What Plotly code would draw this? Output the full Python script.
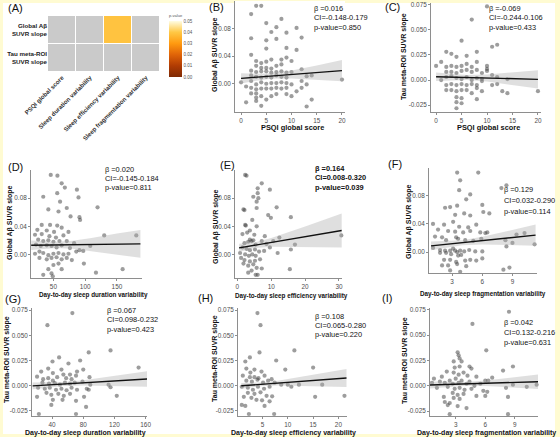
import plotly.graph_objects as go

W, H = 560, 437
def px(v): return v / W
def py(v): return 1 - v / H

FONT = "Liberation Sans, Arial, sans-serif"

# ---------------- Panel A: heatmap of p-values ----------------
hm_row_labels = ["Global Aβ<br>SUVR slope", "Tau meta-ROI<br>SUVR slope"]
hm_cols = ["PSQI global score", "Sleep duration variability",
           "Sleep efficiency variability", "Sleep fragmentation variability"]
pval_global = [0.850, 0.811, 0.039, 0.114]
pval_tau = [0.433, 0.423, 0.220, 0.631]
p_threshold = 0.05
cbar_ticks = [0.00, 0.01, 0.02, 0.03, 0.04, 0.05]

# ---------------- Panel B: PSQI vs global Abeta ----------------
B_x = [3,4,2,5,8,6,7,11,5,2,9,12,7,5,9,11,2,3,4,5,6,8,9,10,3,4,5,6,7,8,2,3,4,5,6,7,8,9,10,12,13,
       2,3,4,5,6,7,8,9,0,1,2,3,4,5,6,7,8,9,10,12,13,14,20,2,3,4,5,6,7,8,9,2,3,4,5,6,7,9,10,1,3,4,14,13,3,11,12]
B_y = [0.113,0.113,0.101,0.088,0.094,0.075,0.082,0.081,0.063,0.066,0.074,0.067,0.065,0.051,0.052,0.049,
       0.042,0.033,0.030,0.032,0.035,0.035,0.038,0.033,0.026,0.023,0.023,0.022,0.026,0.028,0.019,0.017,0.018,
       0.018,0.016,0.017,0.018,0.016,0.017,0.021,0.011,0.012,0.010,0.009,0.010,0.009,0.012,0.010,0.009,0.002,
       -0.004,0.004,-0.001,0.002,0.000,0.001,0.001,0.002,0.001,-0.001,0.004,-0.001,0.012,0.006,-0.006,-0.008,
       -0.007,-0.007,-0.007,-0.006,-0.007,-0.006,-0.014,-0.014,-0.018,-0.023,-0.018,-0.015,-0.015,-0.018,-0.027,
       -0.025,-0.032,-0.023,-0.033,-0.020,-0.011,-0.006]
B_band_x = [0, 3, 6, 10, 15, 20]
B_fit = [0.0077, 0.0094, 0.0111, 0.0134, 0.0162, 0.0190]
B_lo = [0.0002, 0.0044, 0.0071, 0.0075, 0.0058, 0.0035]
B_hi = [0.0152, 0.0144, 0.0151, 0.0193, 0.0266, 0.0345]
B_xticks = [0, 5, 10, 15, 20]
B_yticks = [0.00, 0.04, 0.08]
B_stats = ["β =0.016", "CI=-0.148-0.179", "p-value=0.850"]

# ---------------- Panel C: PSQI vs tau ----------------
C_x = [10,7,5,11,12,2,3,8,4,6,0,1,2,3,4,5,6,7,8,10,10,10,2,3,4,5,6,7,8,9,1,2,3,4,5,6,7,8,9,11,12,14,
       2,3,4,5,6,7,8,12,2,3,4,5,6,8,9,4,5,7,8,13,14,20,4,5,4,9,11]
C_y = [0.073,0.060,0.039,0.033,0.035,0.028,0.026,0.028,0.023,0.024,0.014,0.018,0.013,0.014,0.013,0.014,
       0.016,0.013,0.018,0.014,0.011,0.009,0.008,0.008,0.007,0.009,0.010,0.008,0.010,0.007,0.000,0.003,0.004,
       0.002,0.001,0.003,0.000,0.002,0.001,0.005,0.003,0.001,-0.005,-0.004,-0.005,-0.004,-0.005,-0.004,-0.005,
       -0.004,-0.010,-0.010,-0.011,-0.010,-0.010,-0.008,-0.011,-0.017,-0.018,-0.013,-0.019,-0.011,-0.013,-0.011,
       -0.022,-0.023,-0.028,-0.001,-0.005]
C_band_x = [0, 3, 6, 10, 15, 20]
C_fit = [0.0033, 0.0029, 0.0025, 0.0020, 0.0014, 0.0007]
C_lo = [-0.0009, -0.0002, 0.0000, -0.0015, -0.0047, -0.0083]
C_hi = [0.0075, 0.0060, 0.0050, 0.0055, 0.0075, 0.0097]
C_xticks = [0, 5, 10, 15, 20]
C_yticks = [-0.025, 0.000, 0.025, 0.050, 0.075]
C_stats = ["β =-0.069", "CI=-0.244-0.106", "p-value=0.433"]

# ---------------- Panel D: duration variability vs global Abeta ----------------
D_x = [45.8,56.3,63,68,87,34,56,89.5,60.5,42,71,119.5,77,91,92,58,31.6,44.7,56,24.7,39.5,51,63,73.7,21,31.6,
       43.7,54,65.8,130,180.5,26,34,42,50,59.5,71,82.6,22.6,30,39.5,47,55,63,76,108,21,28,34,42,50,58,65.8,
       73.7,86,91,97,39.5,47,55,63,71,79,28,98,50,58,42,63,47,34,117,159,49]
D_y = [0.113,0.112,0.101,0.095,0.092,0.082,0.087,0.081,0.075,0.064,0.066,0.067,0.054,0.053,0.049,0.061,0.042,
       0.042,0.041,0.035,0.034,0.032,0.038,0.032,0.028,0.029,0.026,0.024,0.027,0.027,0.027,0.021,0.019,0.020,
       0.018,0.019,0.019,0.016,0.014,0.012,0.013,0.012,0.010,0.013,0.009,0.012,0.001,0.004,0.002,-0.001,0.001,
       0.002,0.000,0.001,0.004,0.006,0.005,-0.007,-0.005,-0.004,-0.007,-0.005,-0.008,-0.005,-0.013,-0.015,
       -0.013,-0.021,-0.021,-0.027,-0.029,-0.026,-0.021,-0.031]
D_band_x = [15, 35, 55, 80, 110, 150, 187]
D_fit = [0.0130, 0.0132, 0.0135, 0.0138, 0.0141, 0.0146, 0.0150]
D_lo = [0.0062, 0.0079, 0.0090, 0.0080, 0.0048, -0.0004, -0.0048]
D_hi = [0.0198, 0.0185, 0.0180, 0.0196, 0.0234, 0.0296, 0.0348]
D_xticks = [50, 100, 150]
D_yticks = [0.00, 0.04, 0.08]
D_stats = ["β =0.020", "CI=-0.145-0.184", "p-value=0.811"]

# ---------------- Panel E: efficiency variability vs global Abeta ----------------
E_x = [2.3,2.7,7.2,6,9.6,6,4.7,6.2,5.7,11.6,1.8,2.1,5.7,9.1,9.9,15.8,4.4,2.3,2.5,3.7,5.7,5,8.1,12.4,1.5,2.9,
       3.7,4.2,4.7,3.2,2.1,5.4,7.2,8.6,10.6,17,30.7,1.5,2.7,3.7,5.2,6.4,7.9,9.6,11.9,15.8,0.8,2.3,3.4,4.4,5.4,
       1.1,2.1,3.7,5.2,6.7,1.8,3.2,4.7,5.7,7.2,4.2,15.5,6,5.4,3.2]
E_y = [0.113,0.112,0.101,0.094,0.092,0.087,0.082,0.080,0.075,0.067,0.064,0.063,0.066,0.056,0.052,0.053,0.049,
       0.042,0.041,0.034,0.040,0.028,0.026,0.024,0.029,0.031,0.021,0.019,0.020,0.018,0.016,0.014,0.019,0.015,
       0.019,0.014,0.027,0.010,0.008,0.006,0.007,0.004,0.005,0.010,0.002,0.007,0.002,0.000,-0.002,0.000,-0.002,
       -0.005,-0.008,-0.010,-0.009,-0.007,-0.013,-0.016,-0.014,-0.019,-0.020,-0.023,-0.021,-0.029,-0.029,-0.026]
E_band_x = [0.5, 5, 10, 15, 20, 25, 30.8]
E_fit = [0.0093, 0.0130, 0.0171, 0.0211, 0.0252, 0.0293, 0.0340]
E_lo = [0.0034, 0.0090, 0.0108, 0.0110, 0.0107, 0.0103, 0.0100]
E_hi = [0.0152, 0.0170, 0.0234, 0.0312, 0.0397, 0.0483, 0.0580]
E_xticks = [0, 10, 20, 30]
E_yticks = [0.00, 0.04, 0.08]
E_stats = ["β =0.164", "CI=0.008-0.320", "p-value=0.039"]

# ---------------- Panel F: fragmentation variability vs global Abeta ----------------
F_x = [3.5,5.6,3.8,3.7,4.4,4.8,7.9,8.4,2.3,2.8,3.5,6.0,3.3,4.2,4.8,6.1,6.7,1.1,2.2,3.1,3.7,4.6,5.4,1.6,2.6,
       3.3,4.1,4.8,5.8,6.3,6.5,1.3,2.0,2.4,3.4,3.6,4.3,5.1,5.9,10.2,9.4,8.3,9.0,1.1,1.8,2.3,2.8,3.1,3.3,3.5,
       3.8,4.2,4.7,5.3,6.0,1.8,2.4,2.9,3.6,3.9,8.4,11.2,2.2,2.8,3.4,4.3,4.8,5.4,6.0,2.0,2.6,3.5,4.4,8.1,8.7,
       2.8,3.8]
F_y = [0.113,0.113,0.102,0.088,0.075,0.082,0.091,0.095,0.063,0.064,0.066,0.067,0.053,0.055,0.052,0.057,0.055,
       0.040,0.039,0.043,0.036,0.035,0.039,0.032,0.030,0.029,0.028,0.030,0.028,0.027,0.028,0.022,0.021,0.017,
       0.021,0.019,0.017,0.016,0.019,0.027,0.025,0.017,0.013,0.006,0.003,0.002,0.002,0.005,0.002,0.000,0.002,
       0.001,0.003,0.001,0.001,-0.001,-0.001,-0.003,-0.005,-0.004,0.008,0.011,-0.011,-0.011,-0.014,-0.012,
       -0.011,-0.012,-0.009,-0.019,-0.019,-0.017,-0.020,-0.025,-0.022,-0.026,-0.028]
F_band_x = [0.9, 2.5, 4, 6, 8, 10, 11.3]
F_fit = [0.0089, 0.0112, 0.0134, 0.0163, 0.0193, 0.0222, 0.0241]
F_lo = [0.0027, 0.0067, 0.0099, 0.0108, 0.0103, 0.0094, 0.0091]
F_hi = [0.0151, 0.0157, 0.0169, 0.0218, 0.0283, 0.0350, 0.0391]
F_xticks = [3, 6, 9]
F_yticks = [0.00, 0.04, 0.08]
F_stats = ["β =0.129", "CI=0.032-0.290", "p-value=0.114"]

# ---------------- Panel G: duration variability vs tau ----------------
G_x = [66,34,115,87,49,40.5,76,26,35,41,52,61,54.5,63,72,80,88,151,20.7,28.5,35,41,46.5,58,65,70.7,27.6,36,
       43.5,50,56.5,63,69,79,112.5,89,22,30.6,37,45,52,58.6,65,72,84.5,115,32.8,39,48,55,63,81,87,20.7,41,
       53.4,70.7,83.6,39,123,23,70.7]
G_y = [0.072,0.060,0.035,0.033,0.028,0.024,0.025,0.014,0.017,0.0125,0.016,0.022,0.011,0.011,0.014,0.016,
       0.0085,0.018,0.009,0.0065,0.0075,0.005,0.0085,0.0075,0.0065,0.010,0.003,0.002,0.0025,0.001,0.003,0.002,
       0.003,0.004,0.001,0.001,-0.002,-0.003,-0.002,-0.004,-0.003,-0.0045,-0.002,-0.004,-0.003,-0.0015,-0.007,
       -0.009,-0.008,-0.010,-0.008,-0.011,-0.004,-0.011,-0.014,-0.014,-0.015,-0.021,-0.019,-0.010,-0.028,-0.028]
G_band_x = [15, 35, 55, 80, 110, 140, 162]
G_fit = [-0.0002, 0.0007, 0.0016, 0.0028, 0.0042, 0.0056, 0.0066]
G_lo = [-0.0036, -0.0017, -0.0004, 0.0001, -0.0002, -0.0007, -0.0011]
G_hi = [0.0032, 0.0031, 0.0036, 0.0055, 0.0086, 0.0119, 0.0143]
G_xticks = [40, 80, 120, 160]
G_yticks = [-0.025, 0.000, 0.025, 0.050, 0.075]
G_stats = ["β =0.067", "CI=0.098-0.232", "p-value=0.423"]

# ---------------- Panel H: efficiency variability vs tau ----------------
H_x = [4.0,4.6,11.3,4.4,2.5,1.6,7.7,1.8,2.6,3.4,4.8,9.5,15,1.1,2.5,3.4,4.2,5.4,6.8,1.8,2.9,4.0,5.1,6.1,7.4,
       8.7,10,10.7,12.2,16.8,0.9,2.1,3.1,4.1,5.3,6.4,2.1,3.4,4.6,5.8,6.9,1.3,2.8,3.8,4.9,6.4,15.4,21.2,0.9,
       1.6,5.4,2.3,7.3]
H_y = [0.072,0.060,0.035,0.033,0.028,0.024,0.025,0.017,0.013,0.016,0.014,0.016,0.018,0.010,0.0085,0.0085,
       0.0075,0.010,0.0065,0.005,0.004,0.006,0.003,0.005,0.003,0.001,0.001,-0.001,0.001,0.001,-0.001,-0.002,
       -0.004,-0.001,-0.003,-0.001,-0.007,-0.008,-0.0065,-0.010,-0.0105,-0.011,-0.012,-0.014,-0.0145,-0.0155,
       -0.011,-0.010,-0.019,-0.020,-0.020,-0.028,-0.028]
H_band_x = [0.8, 3, 5, 8, 12, 17, 21.6]
H_fit = [-0.0001, 0.0007, 0.0015, 0.0026, 0.0040, 0.0059, 0.0076]
H_lo = [-0.0030, -0.0014, -0.0003, 0.0003, -0.0002, -0.0009, -0.0013]
H_hi = [0.0028, 0.0028, 0.0033, 0.0049, 0.0082, 0.0127, 0.0165]
H_xticks = [5, 10, 15, 20]
H_yticks = [-0.025, 0.000, 0.025, 0.050, 0.075]
H_stats = ["β =0.108", "CI=0.065-0.280", "p-value=0.220"]

# ---------------- Panel I: fragmentation variability vs tau ----------------
I_x = [8.4,4.7,6.1,3.2,3.3,3.4,2.8,3.6,4.4,4.6,8.8,7.8,2.1,2.9,3.4,1.6,2.8,3.3,3.8,4.2,5.1,6.0,6.7,0.8,1.4,
       2.4,3.0,3.6,4.4,6.3,0.6,1.9,2.7,3.3,4.1,4.9,5.5,8.1,8.8,10.2,11.2,1.1,2.2,2.9,3.4,3.9,4.6,5.8,6.2,2.7,
       3.2,3.8,5.1,1.8,2.8,3.4,6.0,1.9,2.4,3.2,8.3,2.2,4.1,2.4,8.3]
I_y = [0.073,0.061,0.035,0.033,0.030,0.027,0.024,0.024,0.019,0.017,0.019,0.015,0.014,0.018,0.019,0.009,0.013,
       0.011,0.013,0.010,0.009,0.005,0.008,0.007,0.004,0.005,0.007,0.005,0.004,0.005,0.003,0.003,0.002,0.003,
       0.002,0.000,0.002,-0.002,0.001,-0.001,0.001,-0.002,-0.001,-0.003,-0.002,-0.004,-0.003,-0.005,-0.006,
       -0.007,-0.009,-0.008,-0.010,-0.011,-0.012,-0.013,-0.010,-0.016,-0.017,-0.020,-0.011,-0.019,-0.022,
       -0.028,-0.028]
I_band_x = [0.4, 2, 4, 6, 8, 10, 11.35]
I_fit = [0.0008, 0.0013, 0.0019, 0.0025, 0.0031, 0.0036, 0.0040]
I_lo = [-0.0026, -0.0011, 0.0001, -0.0001, -0.0012, -0.0024, -0.0032]
I_hi = [0.0042, 0.0037, 0.0037, 0.0051, 0.0074, 0.0096, 0.0112]
I_xticks = [3, 6, 9]
I_yticks = [-0.025, 0.000, 0.025, 0.050, 0.075]
I_stats = ["β =0.042", "CI=0.132-0.216", "p-value=0.631"]

# =================================================================
fig = go.Figure()
annotations = []
layout_axes = {}

# ---- Heatmap (panel A)
pvals = [pval_global, pval_tau]
z_sig = [[p if p <= p_threshold else None for p in row] for row in pvals]
z_ns = [[1 if p > p_threshold else None for p in row] for row in pvals]
fig.add_trace(go.Heatmap(z=z_ns, x=hm_cols, y=hm_row_labels, colorscale=[[0, "#CACACA"], [1, "#CACACA"]],
                         showscale=False, xgap=1, ygap=1, hoverinfo="skip"))
fig.add_trace(go.Heatmap(
    z=z_sig, x=hm_cols, y=hm_row_labels, zmin=0, zmax=0.05, xgap=1, ygap=1,
    colorscale=[[0, "#7E2A05"], [0.2, "#B13C03"], [0.4, "#E06408"], [0.6, "#FF9A10"],
                [0.8, "#FFC845"], [1, "#FFFDE3"]],
    colorbar=dict(x=px(169), xanchor="left", xpad=0, ypad=0, y=py(44), yanchor="middle",
                  len=66, lenmode="pixels", thickness=13, thicknessmode="pixels", outlinewidth=0,
                  tickvals=cbar_ticks, ticktext=[f"{t:.2f}" for t in cbar_ticks], ticks="", ticklen=0,
                  tickfont=dict(size=4.5, color="#555", family=FONT),
                  title=dict(text="p-value", side="top", font=dict(size=4, color="#555", family=FONT))),
    hoverinfo="skip"))
layout_axes["xaxis"] = dict(domain=[px(48), px(160)], anchor="y", tickangle=-45, showgrid=False,
                            zeroline=False, showline=False, ticks="",
                            tickvals=hm_cols, ticktext=[f"<b>{c}</b>" for c in hm_cols],
                            tickfont=dict(size=6.1, color="#333", family=FONT))
layout_axes["yaxis"] = dict(domain=[py(72), py(16)], anchor="x", autorange="reversed", showgrid=False,
                            zeroline=False, showline=False, ticks="",
                            tickvals=hm_row_labels, ticktext=[f"<b>{r}</b>" for r in hm_row_labels],
                            tickfont=dict(size=6.2, color="#222", family=FONT))

# ---- Scatter panels
panels = [
    dict(k=2, x=B_x, y=B_y, bx=B_band_x, fit=B_fit, lo=B_lo, hi=B_hi, xt=B_xticks, yt=B_yticks, fmt="{:.2f}",
         dom=(235, 345, 1, 112), xr=(-1.2, 20.6), yr=(-0.041, 0.120), stats=B_stats, st=(312, 8, 9.5), bold=False,
         label="(B)", lab=(207, 7), xtitle="PSQI global score", xtp=(292, 127, 7.4),
         ytitle="Global Aβ SUVR slope", ytp=(215, 55)),
    dict(k=3, x=C_x, y=C_y, bx=C_band_x, fit=C_fit, lo=C_lo, hi=C_hi, xt=C_xticks, yt=C_yticks, fmt="{:.3f}",
         dom=(431, 541, 3, 112), xr=(-1.0, 20.6), yr=(-0.0317, 0.0764), stats=C_stats, st=(487, 8, 9.5), bold=False,
         label="(C)", lab=(383, 7), xtitle="PSQI global score", xtp=(488, 127, 7.4),
         ytitle="Tau meta-ROI SUVR slope", ytp=(404, 57)),
    dict(k=4, x=D_x, y=D_y, bx=D_band_x, fit=D_fit, lo=D_lo, hi=D_hi, xt=D_xticks, yt=D_yticks, fmt="{:.2f}",
         dom=(31, 142, 170, 278), xr=(14.7, 189.5), yr=(-0.0335, 0.120), stats=D_stats, st=(103, 169, 9.5), bold=False,
         label="(D)", lab=(6, 167), xtitle="Day-to-day sleep duration variability", xtp=(93, 295, 6.3),
         ytitle="Global Aβ SUVR slope", ytp=(10, 223)),
    dict(k=5, x=E_x, y=E_y, bx=E_band_x, fit=E_fit, lo=E_lo, hi=E_hi, xt=E_xticks, yt=E_yticks, fmt="{:.2f}",
         dom=(235, 342, 170, 278), xr=(-0.7, 30.9), yr=(-0.0335, 0.120), stats=E_stats, st=(313, 168, 9.5), bold=True,
         label="(E)", lab=(218, 165), xtitle="Day-to-day sleep efficiency variability", xtp=(291, 296, 6.3),
         ytitle="Global Aβ SUVR slope", ytp=(216, 227)),
    dict(k=6, x=F_x, y=F_y, bx=F_band_x, fit=F_fit, lo=F_lo, hi=F_hi, xt=F_xticks, yt=F_yticks, fmt="{:.2f}",
         dom=(429, 537, 168, 273), xr=(0.7, 11.44), yr=(-0.0297, 0.1195), stats=F_stats, st=(502, 189, 11), bold=False,
         label="(F)", lab=(386, 164), xtitle="Day-to-day sleep fragmentation variability", xtp=(483, 294, 6.3),
         ytitle="Global Aβ SUVR slope", ytp=(409, 222)),
    dict(k=7, x=G_x, y=G_y, bx=G_band_x, fit=G_fit, lo=G_lo, hi=G_hi, xt=G_xticks, yt=G_yticks, fmt="{:.3f}",
         dom=(32, 147, 308, 416), xr=(14.2, 161.8), yr=(-0.030, 0.077), stats=G_stats, st=(105, 310, 9.5), bold=False,
         label="(G)", lab=(3, 299), xtitle="Day-to-day sleep duration variability", xtp=(85, 432.5, 7.0),
         ytitle="Tau meta-ROI SUVR slope", ytp=(7, 360)),
    dict(k=8, x=H_x, y=H_y, bx=H_band_x, fit=H_fit, lo=H_lo, hi=H_hi, xt=H_xticks, yt=H_yticks, fmt="{:.3f}",
         dom=(238, 347, 308, 416), xr=(0.15, 21.7), yr=(-0.030, 0.077), stats=H_stats, st=(313, 316, 9), bold=False,
         label="(H)", lab=(196, 298), xtitle="Day-to-day sleep efficiency variability", xtp=(293, 432.5, 7.0),
         ytitle="Tau meta-ROI SUVR slope", ytp=(215, 359)),
    dict(k=9, x=I_x, y=I_y, bx=I_band_x, fit=I_fit, lo=I_lo, hi=I_hi, xt=I_xticks, yt=I_yticks, fmt="{:.3f}",
         dom=(430, 538, 308, 416), xr=(0.4, 11.34), yr=(-0.0298, 0.0767), stats=I_stats, st=(502, 322, 10.3), bold=False,
         label="(I)", lab=(380, 298), xtitle="Day-to-day sleep fragmentation variability", xtp=(486, 432.5, 7.0),
         ytitle="Tau meta-ROI SUVR slope", ytp=(405, 361)),
]

AX_COL = "#8e8e8e"
TICK_FONT = dict(size=6.4, color="#4d4d4d", family=FONT)

for p in panels:
    k = p["k"]
    xa, ya = f"x{k}", f"y{k}"
    fig.add_trace(go.Scatter(x=p["x"], y=p["y"], mode="markers", xaxis=xa, yaxis=ya, showlegend=False,
                             marker=dict(size=4.2, color="rgba(60,60,60,0.5)", line=dict(width=0)),
                             hoverinfo="skip", cliponaxis=False))
    fig.add_trace(go.Scatter(x=p["bx"] + p["bx"][::-1], y=p["hi"] + p["lo"][::-1], mode="lines",
                             fill="toself", fillcolor="rgba(170,170,170,0.38)", line=dict(width=0),
                             xaxis=xa, yaxis=ya, showlegend=False, hoverinfo="skip"))
    fig.add_trace(go.Scatter(x=p["bx"], y=p["fit"], mode="lines", line=dict(color="#111", width=1.4),
                             xaxis=xa, yaxis=ya, showlegend=False, hoverinfo="skip"))
    x0, x1, y0, y1 = p["dom"]
    common = dict(showgrid=False, zeroline=False, showline=True, linecolor=AX_COL, linewidth=0.9,
                  ticks="outside", ticklen=2, tickwidth=0.8, tickcolor=AX_COL, tickfont=TICK_FONT)
    layout_axes[f"xaxis{k}"] = dict(domain=[px(x0), px(x1)], range=list(p["xr"]), anchor=ya,
                                    tickvals=p["xt"], ticktext=[str(t) for t in p["xt"]], **common)
    layout_axes[f"yaxis{k}"] = dict(domain=[py(y1), py(y0)], range=list(p["yr"]), anchor=xa,
                                    tickvals=p["yt"], ticktext=[p["fmt"].format(t) for t in p["yt"]], **common)
    sx, sy, sp = p["st"]
    for i, s in enumerate(p["stats"]):
        txt = f"<b>{s}</b>" if p["bold"] else s
        annotations.append(dict(x=px(sx), y=py(sy + i * sp), xref="paper", yref="paper", text=txt,
                                showarrow=False, xanchor="left", yanchor="middle",
                                font=dict(size=7.4, color="#111111", family=FONT)))
    annotations.append(dict(x=px(p["lab"][0]), y=py(p["lab"][1]), xref="paper", yref="paper", text=p["label"],
                            showarrow=False, xanchor="left", yanchor="middle",
                            font=dict(size=11, color="#111111", family=FONT)))
    annotations.append(dict(x=px(p["xtp"][0]), y=py(p["xtp"][1]), xref="paper", yref="paper",
                            text=f"<b>{p['xtitle']}</b>", showarrow=False, xanchor="center", yanchor="middle",
                            font=dict(size=p["xtp"][2], color="#111111", family=FONT)))
    annotations.append(dict(x=px(p["ytp"][0]), y=py(p["ytp"][1]), xref="paper", yref="paper",
                            text=f"<b>{p['ytitle']}</b>", showarrow=False, xanchor="center", yanchor="middle",
                            textangle=-90, font=dict(size=7.0, color="#111111", family=FONT)))

annotations.append(dict(x=px(6), y=py(8), xref="paper", yref="paper", text="(A)", showarrow=False,
                        xanchor="left", yanchor="middle", font=dict(size=11, color="#111111", family=FONT)))

fig.update_layout(
    template="none",
    width=W, height=H, margin=dict(l=0, r=0, t=0, b=0),
    paper_bgcolor="#FFFBD2", plot_bgcolor="white", showlegend=False,
    font=dict(family=FONT, color="#111111"), annotations=annotations,
    shapes=[dict(type="rect", xref="paper", yref="paper", x0=px(3), x1=px(555), y0=py(434), y1=py(3),
                 fillcolor="white", line=dict(width=0), layer="below")],
    **layout_axes)

fig.write_html("out.html")
